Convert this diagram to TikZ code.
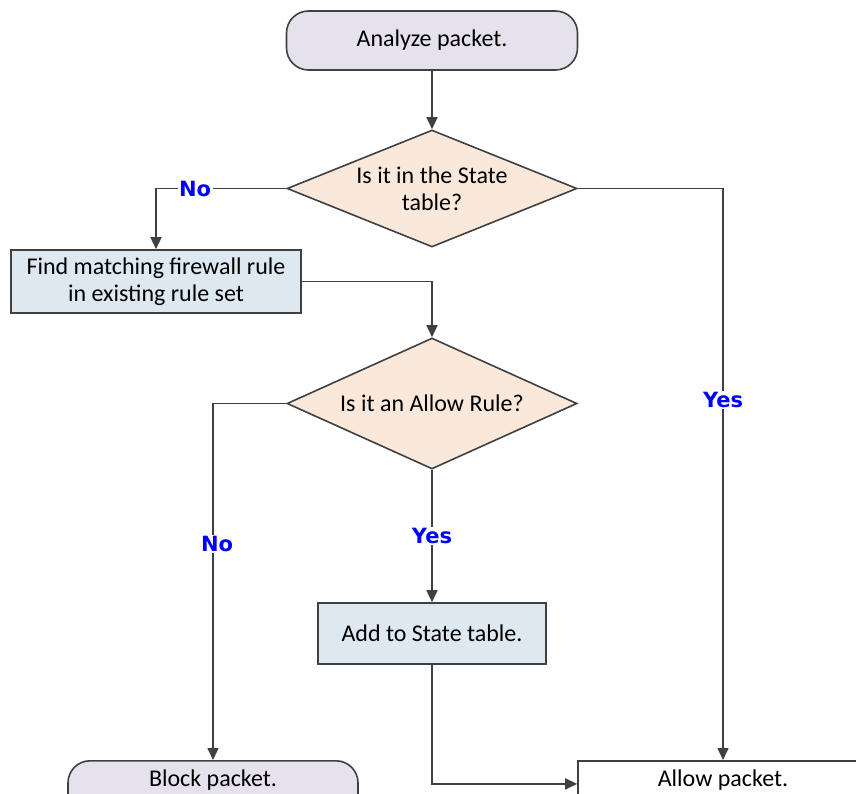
\documentclass[tikz,border=0pt]{standalone}
\usepackage{fontspec}
\setmainfont{Carlito}
\newfontfamily\answerfont{DejaVu Sans}
\usetikzlibrary{shapes.geometric,arrows.meta}
\definecolor{linegray}{HTML}{404040}
\definecolor{termfill}{HTML}{E5E2EE}
\definecolor{decfill}{HTML}{FAE9DB}
\definecolor{procfill}{HTML}{DEE8F1}
\tikzset{
  terminal/.style={
    rectangle,
    rounded corners=22pt,
    draw=linegray,
    line width=1.6pt,
    fill=termfill,
    minimum width=291pt,
    minimum height=59pt,
  },
  decision/.style={
    diamond,
    aspect=2.48,
    draw=linegray,
    line width=1.6pt,
    fill=decfill,
    minimum width=290pt,
    minimum height=117pt,
    inner sep=0pt,
    align=center,
  },
  process/.style={
    rectangle,
    draw=linegray,
    line width=1.6pt,
    fill=procfill,
    align=center,
  },
  link/.style={
    draw=linegray,
    line width=1.6pt,
    -{Triangle[length=12pt, width=11pt]},
  },
  answer/.style={
    fill=white,
    text=blue,
    font=\fontsize{21}{25}\answerfont\bfseries,
    inner sep=1.5pt,
  }
}

\begin{document}
\begin{tikzpicture}[x=1pt, y=-1pt, font=\fontsize{24}{27}\selectfont]
  \useasboundingbox (0, 0) rectangle (856, 794);
  \clip (0, 0) rectangle (856, 794);

  \node[terminal] (analyze) at (432, 40.5) {Analyze packet.};
  \node[decision] (state) at (432, 188.5) {Is it in the State\\table?};
  \node[process, minimum width=290pt, minimum height=63pt] (find) at (156, 281.5)
    {Find matching firewall rule\\in existing rule set};
  \node[decision, minimum height=131pt] (allowrule) at (432, 403.5) {Is it an Allow Rule?};
  \node[process, minimum width=228pt, minimum height=61pt] (add) at (432, 633.5) {Add to State table.};
  \node[terminal, anchor=north, minimum width=290pt, text height=15pt, text depth=23pt] (block) at (213, 760) {Block packet.};
  \node[process, fill=white, anchor=north, minimum width=290pt, minimum height=59pt, text height=15pt, text depth=23pt] (allow) at (723, 760) {Allow packet.};

  \draw[link] (analyze) -- (state);
  \draw[link] (state.west) -| node[answer, pos=0.35] {No} (find.north);
  \draw[link] (find.east) -| (allowrule.north);
  \draw[link] (allowrule.west) -| node[answer, pos=0.697, xshift=4pt] {No} (block.north);
  \draw[link] (allowrule.south) -- node[answer, midway] {Yes} (add.north);
  \draw[link] (add.south) |- (allow.mid west);
  \draw[link] (state.east) -| node[answer, pos=0.685] {Yes} (allow.north);

\end{tikzpicture}
\end{document}
